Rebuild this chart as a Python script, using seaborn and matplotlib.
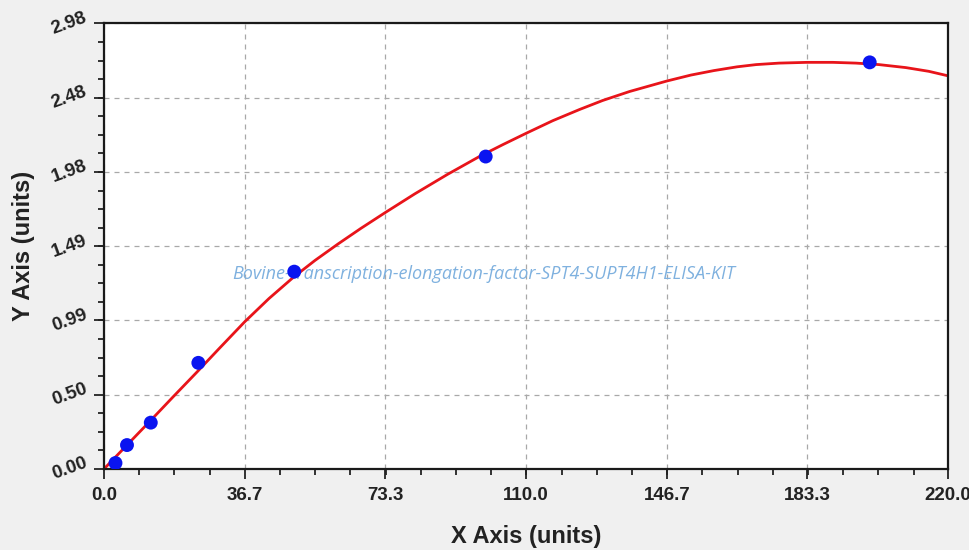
import seaborn as sns
import matplotlib
matplotlib.use("Agg")
import matplotlib.pyplot as plt
from matplotlib.ticker import AutoMinorLocator
import pandas as pd

# standard points
conc = [3.0, 6.0, 12.2, 24.6, 49.6, 99.5, 199.6]
od = [0.04, 0.16, 0.31, 0.71, 1.32, 2.09, 2.72]

# fitted curve
curve_x = [0, 6, 12, 18, 24.3, 30, 36.7, 43, 49.5, 55, 61, 67, 73.3, 81, 89.5, 98.2, 104, 110, 117, 124,
           130, 137, 146.7, 153, 159, 165, 170, 176, 183.3, 190, 196, 202, 209, 215, 220]
curve_y = [0.0, 0.16, 0.32, 0.482, 0.65, 0.805, 0.985, 1.14, 1.285, 1.395, 1.505, 1.61, 1.715, 1.84, 1.97,
           2.095, 2.17, 2.245, 2.33, 2.405, 2.465, 2.525, 2.595, 2.635, 2.665, 2.69, 2.705, 2.715, 2.72,
           2.72, 2.715, 2.705, 2.685, 2.66, 2.63]

xticks = [0, 36.7, 73.3, 110.0, 146.7, 183.3, 220.0]
xticklabels = ["0.0", "36.7", "73.3", "110.0", "146.7", "183.3", "220.0"]
yticks = [0.0, 0.4967, 0.9933, 1.49, 1.9867, 2.4833, 2.98]
yticklabels = ["0.00", "0.50", "0.99", "1.49", "1.98", "2.48", "2.98"]

watermark = "Bovine-transcription-elongation-factor-SPT4-SUPT4H1-ELISA-KIT"

sns.set_style("white")
plt.rcParams['font.family'] = ['Liberation Sans', 'DejaVu Sans']

fig = plt.figure(figsize=(9.69, 5.5), dpi=100, facecolor="#f0f0f0")
ax = fig.add_axes([0.1073, 0.1473, 0.871, 0.810])
ax.set_facecolor("white")

pts = pd.DataFrame({"x": conc, "y": od})
fit = pd.DataFrame({"x": curve_x, "y": curve_y})

sns.lineplot(data=fit, x="x", y="y", sort=False, estimator=None, color="#e8141a", linewidth=2.0, ax=ax, zorder=2)
sns.scatterplot(data=pts, x="x", y="y", color="#0a14f0", s=100, edgecolor="none", ax=ax, zorder=3)

ax.set_xlim(0, 220)
ax.set_ylim(0, 2.98)
ax.set_xticks(xticks, xticklabels)
ax.set_yticks(yticks, yticklabels)
ax.xaxis.set_minor_locator(AutoMinorLocator(4))
ax.yaxis.set_minor_locator(AutoMinorLocator(4))

ax.tick_params(axis="both", which="major", direction="out", length=7, width=1.3, color="#222222",
               bottom=True, left=True, top=False, right=False, labelsize=13.5)
ax.tick_params(axis="both", which="minor", direction="out", length=4, width=1.3, color="#222222",
               bottom=True, left=True, top=False, right=False)
ax.tick_params(axis="x", which="major", pad=6)
for lab in ax.get_xticklabels() + ax.get_yticklabels():
    lab.set_fontweight("bold")
    lab.set_color("#222222")
for lab in ax.get_yticklabels():
    lab.set_rotation(20)
    lab.set_ha("right")
    lab.set_va("center")

ax.grid(True, which="major", linestyle=(0, (4, 4)), color="#a8a8a8", linewidth=0.9)

for side in ["left", "bottom", "top", "right"]:
    ax.spines[side].set_visible(True)
    ax.spines[side].set_color("#1a1a1a")
    ax.spines[side].set_linewidth(1.6)

ax.set_xlabel("X Axis (units)", fontsize=17, fontweight="bold", color="#222222", labelpad=15)
ax.set_ylabel("Y Axis (units)", fontsize=17, fontweight="bold", color="#222222", labelpad=10)

ax.text(0.450, 0.437, watermark, transform=ax.transAxes, ha="center", va="center",
        fontsize=13, style="italic", color="#7fb1df", family=["Open Sans", "DejaVu Sans"], zorder=1)

fig.savefig("out.png", dpi=100, facecolor=fig.get_facecolor())
